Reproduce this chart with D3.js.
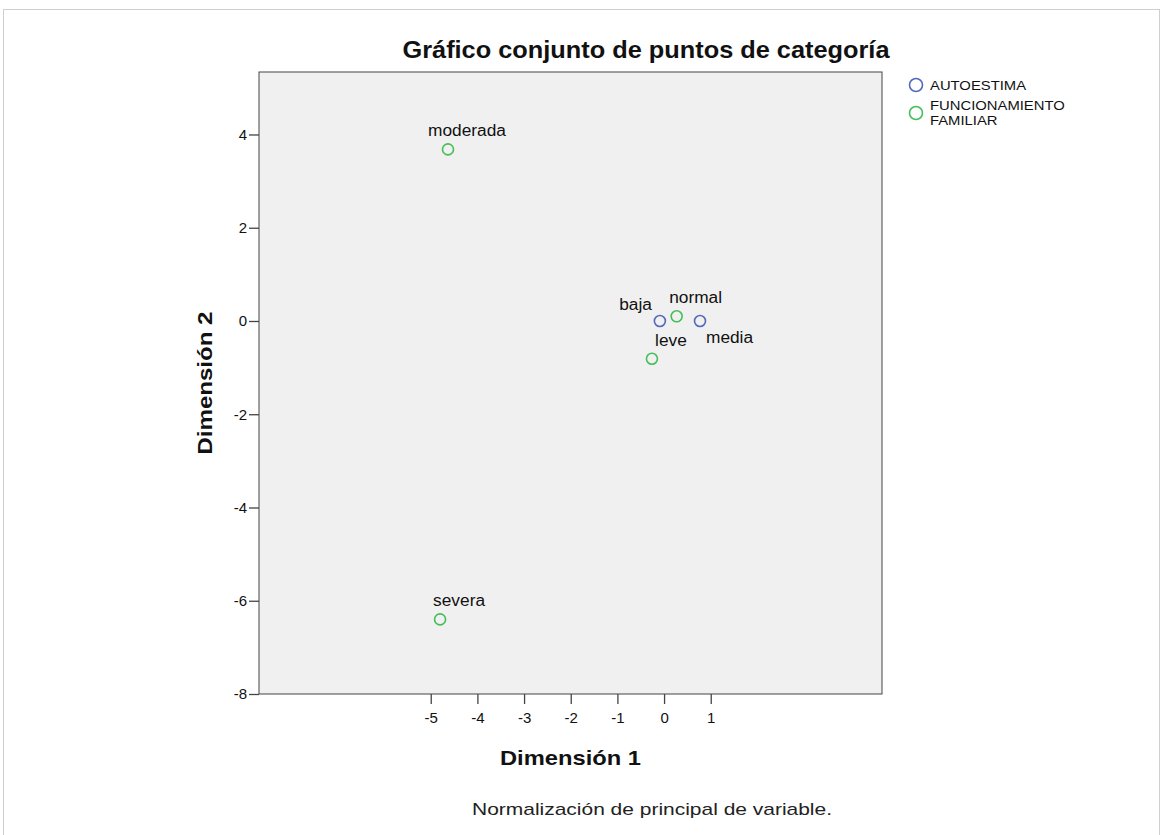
<!DOCTYPE html>
<html><head><meta charset="utf-8">
<script src="https://cdn.jsdelivr.net/npm/d3@7/dist/d3.min.js"></script>
<style>
html,body{margin:0;padding:0;background:#fff;}
svg{display:block;font-family:"Liberation Sans",Arial,sans-serif;}
</style></head>
<body><svg id="c" width="1164" height="835"></svg>
<script>
// ---- data ----
const seriesNames = ["AUTOESTIMA", "FUNCIONAMIENTO FAMILIAR"];
const autoLabels = ["baja", "media"];
const autoDim1 = [-0.09, 0.77];
const autoDim2 = [0.00, 0.00];
const famLabels = ["moderada", "severa", "normal", "leve"];
const famDim1 = [-4.63, -4.80, 0.27, -0.26];
const famDim2 = [3.68, -6.40, 0.10, -0.81];
const xTicks = [-5, -4, -3, -2, -1, 0, 1];
const yTicks = [-8, -6, -4, -2, 0, 2, 4];
const xDomain = [-8.68, 4.67];
const yDomain = [-8, 5.34];
// label placement keys: ar = above right, al = above left, br = below right
const autoLabelPos = ["al", "br"];
const famLabelPos = ["ar", "ar", "ar", "ar"];

const colors = ["#5268bd", "#44be58"];
const svg = d3.select("#c");

function stretch(sel, f) {
  sel.each(function () {
    const w = this.getComputedTextLength();
    d3.select(this).attr("textLength", w * f).attr("lengthAdjust", "spacingAndGlyphs");
  });
}
function fitTo(sel, w) {
  sel.attr("textLength", w).attr("lengthAdjust", "spacingAndGlyphs");
}

// outer frame
svg.append("rect").attr("x", 3.5).attr("y", 9.5).attr("width", 1156).attr("height", 840)
  .attr("fill", "#fff").attr("stroke", "#cfcfcf");

const L = 259, R = 882, T = 72, B = 694;
const x = d3.scaleLinear().domain(xDomain).range([L, R]);
const y = d3.scaleLinear().domain(yDomain).range([B, T]);

svg.append("rect").attr("x", L).attr("y", T).attr("width", R - L).attr("height", B - T)
  .attr("fill", "#f0f0f0").attr("stroke", "#444").attr("stroke-width", 1);

const fmt = d => String(d);

// axes
const xAxis = d3.axisBottom(x).tickValues(xTicks).tickFormat(fmt).tickSize(10).tickPadding(8).tickSizeOuter(0);
const gx = svg.append("g").attr("transform", `translate(0,${B})`).call(xAxis);
gx.select(".domain").remove();
gx.selectAll("line").attr("stroke", "#444").attr("stroke-width", 1.3);
gx.selectAll("text").attr("font-size", 15).attr("fill", "#111").attr("font-family", "Liberation Sans, Arial, sans-serif");

const yAxis = d3.axisLeft(y).tickValues(yTicks).tickFormat(fmt).tickSize(10).tickPadding(2).tickSizeOuter(0);
const gy = svg.append("g").attr("transform", `translate(${L},0)`).call(yAxis);
gy.select(".domain").remove();
gy.selectAll("line").attr("stroke", "#444").attr("stroke-width", 1.3);
gy.selectAll("text").attr("font-size", 15).attr("fill", "#111").attr("font-family", "Liberation Sans, Arial, sans-serif");

// points
const pts = [];
autoLabels.forEach((l, i) => pts.push({label: l, d1: autoDim1[i], d2: autoDim2[i], s: 0, pos: autoLabelPos[i]}));
famLabels.forEach((l, i) => pts.push({label: l, d1: famDim1[i], d2: famDim2[i], s: 1, pos: famLabelPos[i]}));

const offs = {ar: [19, -13, "middle"], al: [-8, -11, "end"], br: [6, 22, "start"]};

svg.append("g").selectAll("circle").data(pts).join("circle")
  .attr("cx", d => x(d.d1)).attr("cy", d => y(d.d2)).attr("r", 5.5)
  .attr("fill", "none").attr("stroke", d => colors[d.s]).attr("stroke-width", 1.6);

const lbl = svg.append("g").selectAll("text").data(pts).join("text")
  .attr("x", d => x(d.d1) + offs[d.pos][0]).attr("y", d => y(d.d2) + offs[d.pos][1])
  .attr("text-anchor", d => offs[d.pos][2]).attr("font-size", 16).attr("fill", "#111")
  .text(d => d.label);
stretch(lbl, 1.08);

// title
const title = svg.append("text").attr("x", 646).attr("y", 58).attr("text-anchor", "middle")
  .attr("font-size", 24).attr("font-weight", "bold").attr("fill", "#111")
  .text("Gráfico conjunto de puntos de categoría");
fitTo(title, 487);

// axis titles
const xt = svg.append("text").attr("x", (L + R) / 2).attr("y", 765).attr("text-anchor", "middle")
  .attr("font-size", 21).attr("font-weight", "bold").attr("fill", "#111").text("Dimensión 1");
fitTo(xt, 141);
const yt = svg.append("text").attr("transform", `translate(212,${(T + B) / 2}) rotate(-90)`).attr("text-anchor", "middle")
  .attr("font-size", 21).attr("font-weight", "bold").attr("fill", "#111").text("Dimensión 2");
fitTo(yt, 143);

// footnote
const fn = svg.append("text").attr("x", 472).attr("y", 815).attr("font-size", 17).attr("fill", "#222")
  .text("Normalización de principal de variable.");
fitTo(fn, 360);

// legend
const lg = svg.append("g");
lg.append("circle").attr("cx", 916).attr("cy", 85).attr("r", 6.5).attr("fill", "none")
  .attr("stroke", colors[0]).attr("stroke-width", 1.6);
const l1 = lg.append("text").attr("x", 930).attr("y", 90).attr("font-size", 13).attr("fill", "#111").text(seriesNames[0]);
lg.append("circle").attr("cx", 916).attr("cy", 113).attr("r", 6.5).attr("fill", "none")
  .attr("stroke", colors[1]).attr("stroke-width", 1.6);
const parts = seriesNames[1].split(" ");
const l2 = lg.append("text").attr("x", 930).attr("y", 110).attr("font-size", 13).attr("fill", "#111").text(parts[0]);
const l3 = lg.append("text").attr("x", 930).attr("y", 125).attr("font-size", 13).attr("fill", "#111").text(parts[1]);
stretch(l1, 1.14); stretch(l2, 1.14); stretch(l3, 1.14);
</script></body></html>
